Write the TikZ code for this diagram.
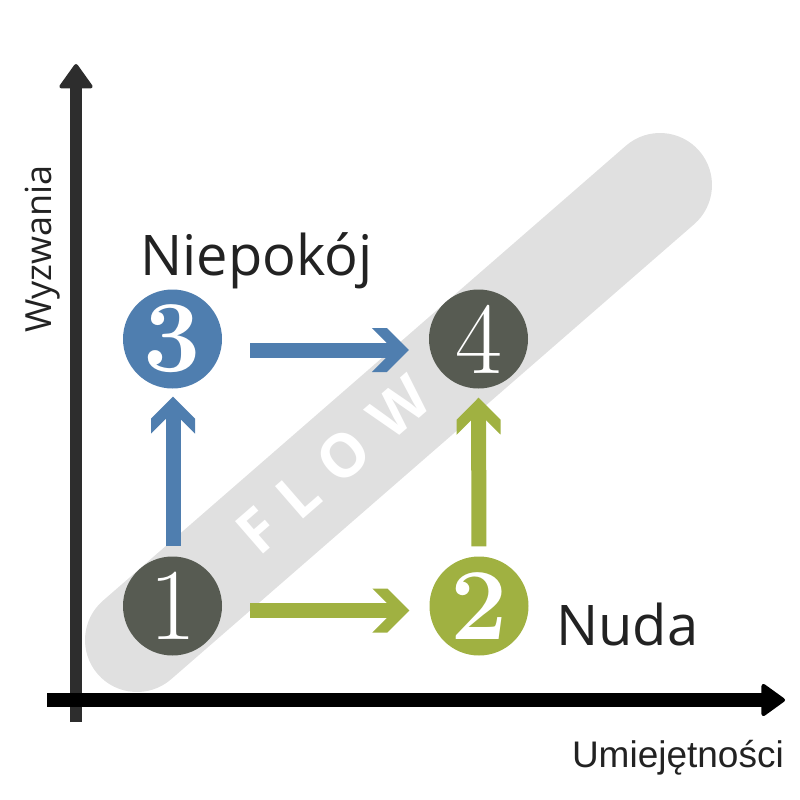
\documentclass[tikz,border=0pt]{standalone}
\usepackage{fontspec}
\setmainfont{Latin Modern Roman}
\newfontfamily\labelfont{Open Sans}
\newfontfamily\axisfont{Liberation Sans}
\newfontfamily\flowfont{Open Sans}[BoldFont={Open Sans Bold}]
\usetikzlibrary{arrows.meta,calc}
\definecolor{cblue}{HTML}{4F7EAF}
\definecolor{cgreen}{HTML}{A0B141}
\definecolor{cdark}{HTML}{575B52}
\definecolor{cpill}{HTML}{E0E0E0}
\definecolor{caxis}{HTML}{2D2D2D}
\definecolor{ctext}{HTML}{222222}
\pgfdeclarearrow{
  name=Chev,
  setup code={
    \pgfarrowssettipend{0pt}
    \pgfarrowssetlineend{-21pt}
    \pgfarrowssetbackend{-37pt}
    \pgfarrowshullpoint{0pt}{0pt}
    \pgfarrowshullpoint{-37pt}{22pt}
    \pgfarrowshullpoint{-37pt}{-22pt}
  },
  drawing code={
    \pgfpathmoveto{\pgfqpoint{0pt}{0pt}}
    \pgfpathlineto{\pgfqpoint{-22pt}{22pt}}
    \pgfpathlineto{\pgfqpoint{-37pt}{22pt}}
    \pgfpathlineto{\pgfqpoint{-22.5pt}{7.5pt}}
    \pgfpathlineto{\pgfqpoint{-22.5pt}{-7.5pt}}
    \pgfpathlineto{\pgfqpoint{-37pt}{-22pt}}
    \pgfpathlineto{\pgfqpoint{-22pt}{-22pt}}
    \pgfpathclose
    \pgfusepathqfill
  }
}
\tikzset{
  numcircle/.style={circle, minimum size=99pt, inner sep=0pt, text=white,
    font=\fontsize{102}{102}\selectfont},
  flowarrow/.style={line width=15pt, -Chev},
  axisarrow/.style={-{Triangle[length=26pt,width=36pt,round,line width=4pt]}},
  lbl/.style={text=ctext, inner sep=0pt, font=\labelfont\fontsize{56}{56}\selectfont},
}
\begin{document}
\begin{tikzpicture}[x=1pt,y=-1pt]
\useasboundingbox (0,0) rectangle (800,800);
% flow band
\coordinate (p1) at (137,640);
\coordinate (p2) at (660,185);
\draw[cpill, line width=104pt, line cap=round] (p1) -- (p2);
\node[rotate=41, text=white, inner sep=0pt, font=\flowfont\bfseries\fontsize{60}{60}\selectfont]
  (flow) at (333,465) {F\hspace{20pt}L\hspace{20pt}O\hspace{20pt}W};
% axes
\coordinate (ybot) at (76,722);
\coordinate (ytop) at (76,64);
\coordinate (xleft) at (47,700);
\coordinate (xright) at (785,700);
\draw[caxis, line width=12pt, axisarrow] (ybot) -- (ytop);
\draw[black, line width=14pt, -{Triangle[length=25pt,width=35pt,round,line width=4pt]}] (xleft) -- (xright);
% nodes
\node[numcircle, fill=cdark] (n1) at (172.5,606) {1};
\node[numcircle, fill=cgreen] (n2) at (479,606) {\bfseries 2};
\node[numcircle, fill=cblue] (n3) at (172.5,339) {\bfseries 3};
\node[numcircle, fill=cdark] (n4) at (478.5,339) {4};
% arrows
\draw[flowarrow, cblue, shorten <=10pt, shorten >=8pt] ([xshift=0.5pt]n1.north) -- ([xshift=0.5pt]n3.south);
\draw[flowarrow, cblue, shorten <=28pt, shorten >=20pt] ([yshift=-11pt]n3.east) -- ([yshift=-11pt]n4.west);
\draw[flowarrow, cgreen, shorten <=28pt, shorten >=20pt] ([yshift=-4.5pt]n1.east) -- ([yshift=-4.5pt]n2.west);
\draw[flowarrow, cgreen, shorten <=10pt, shorten >=9pt] (n2.north) -- (n4.south);
% labels
\node[lbl, anchor=base west] (niep) at (140,275) {Niepokój};
\node[lbl, anchor=base west] (nuda) at (556,645) {Nuda};
\node[text=ctext, inner sep=0pt, anchor=base east, font=\axisfont\fontsize{37}{37}\selectfont] (umi) at (784,767) {Umiejętności};
\node[text=ctext, inner sep=0pt, anchor=base west, rotate=90, font=\labelfont\fontsize{36}{36}\selectfont] (wyz) at (51,333) {Wyzwania};
\end{tikzpicture}
\end{document}
